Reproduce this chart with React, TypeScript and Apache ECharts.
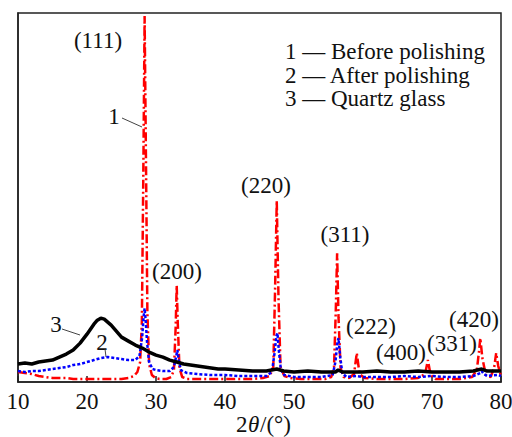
import React, { useEffect, useRef } from "react";
import * as echarts from "echarts";

const xTicks = [10, 20, 30, 40, 50, 60, 70, 80];

const seriesNames = ["Before polishing", "After polishing", "Quartz glass"];

const redData: [number, number][] = [
  [10, 10], [11, 9], [12, 8], [13, 6], [14, 5], [15, 4], [16, 4], [17, 4], [18, 3], [19, 3], [20, 3],
  [21, 3], [22, 3], [23, 3], [24, 3], [25, 3], [26, 4], [26.8, 6], [27.3, 10], [27.7, 20], [27.95, 60],
  [28.15, 200], [28.35, 367], [28.55, 220], [28.75, 70], [29.0, 18], [29.4, 7], [29.9, 4], [30.5, 3],
  [31.5, 3], [32.2, 5], [32.6, 12], [32.85, 55], [33.0, 97], [33.15, 60], [33.4, 14], [33.8, 5],
  [34.5, 3], [36, 3], [38, 3], [40, 3], [42, 3], [44, 3], [45.5, 4], [46.5, 6], [47.0, 15], [47.25, 90],
  [47.5, 182], [47.75, 85], [48.05, 15], [48.6, 6], [49.5, 4], [51, 3], [53, 3], [54.5, 3], [55.4, 5],
  [55.8, 15], [56.05, 70], [56.25, 129], [56.45, 65], [56.75, 14], [57.2, 5], [58.0, 4], [58.7, 8],
  [59.1, 29], [59.5, 8], [60.2, 4], [62, 3], [64, 3], [66, 3], [68, 4], [69.0, 8], [69.4, 22], [69.8, 7],
  [70.5, 3], [72, 3], [74, 3], [75.8, 5], [76.5, 12], [76.8, 30], [77.0, 44], [77.3, 24], [77.8, 7],
  [78.5, 5], [79.0, 14], [79.3, 29], [79.6, 16], [80, 6],
];

const blueData: [number, number][] = [
  [10, 11], [11, 10], [12, 11], [13, 11], [14, 12], [15, 13], [16, 14], [17, 15], [18, 17], [19, 18],
  [20, 20], [21, 22], [22, 24], [23, 25], [24, 24], [25, 23], [26, 22], [27, 22], [27.6, 26], [28.0, 45],
  [28.2, 65], [28.35, 74], [28.5, 62], [28.7, 40], [29.0, 20], [29.5, 13], [30, 12], [31, 11], [32, 11],
  [32.6, 15], [32.9, 25], [33.1, 32], [33.3, 22], [33.6, 12], [34.5, 9], [36, 8], [38, 7], [40, 7],
  [42, 6], [44, 6], [46, 6], [46.8, 10], [47.2, 30], [47.45, 46], [47.6, 49], [47.8, 32], [48.1, 12],
  [48.6, 7], [50, 5], [52, 5], [54, 5], [55.6, 7], [56.0, 20], [56.3, 40], [56.45, 44], [56.7, 25],
  [57.0, 9], [57.6, 5], [59, 6], [60, 5], [62, 5], [64, 5], [66, 6], [68, 5], [70, 6], [72, 5], [74, 5],
  [76, 6], [77, 9], [77.2, 11], [77.5, 8], [78, 6], [79.5, 7], [80, 6],
];

const blackData: [number, number][] = [
  [10, 18], [11, 19], [12, 18], [13, 20], [14, 21], [15, 22], [16, 25], [17, 28], [18, 32], [19, 39],
  [20, 48], [20.5, 53], [21, 58], [21.5, 62], [22, 64], [22.5, 63], [23, 60], [23.5, 57], [24, 53],
  [24.5, 49], [25, 45], [26, 41], [27, 37], [28, 34], [29, 30], [30, 27], [31, 25], [32, 22], [33, 20],
  [34, 18], [35, 17], [36, 16], [37, 15], [38, 14], [39, 13], [40, 13], [42, 12], [44, 11], [46, 11],
  [47.5, 13], [48.5, 11], [50, 10], [52, 11], [54, 10], [56, 10], [56.4, 12], [57, 10], [60, 10],
  [62, 11], [64, 10], [66, 10], [68, 11], [70, 10], [72, 10], [74, 10], [76, 11], [77.2, 13], [78, 11],
  [80, 11],
];

const peakLabels = ["(111)", "(200)", "(220)", "(311)", "(222)", "(400)", "(331)", "(420)"];

const FONT = "Liberation Serif";

export default function App() {
  const ref = useRef<HTMLDivElement>(null);

  useEffect(() => {
    if (!ref.current) return;
    const chart = echarts.init(ref.current, undefined, { renderer: "svg" });

    const peakPos: [number, number][] = [
      [98, 40], [177, 271], [266, 185], [345, 234], [371, 326], [401, 352], [452, 343], [474, 319],
    ];

    const txt = (text: string, x: number, y: number, align = "center", italic = false) => ({
      type: "text",
      x,
      y,
      silent: true,
      style: {
        text,
        fill: "#111",
        fontFamily: FONT,
        fontSize: 23,
        fontStyle: italic ? "italic" : "normal",
        align,
        verticalAlign: "middle",
      },
    });

    const leader = (x1: number, y1: number, x2: number, y2: number) => ({
      type: "line",
      silent: true,
      shape: { x1, y1, x2, y2 },
      style: { stroke: "#444", lineWidth: 1 },
    });

    const graphics: any[] = [
      ...peakLabels.map((t, i) => txt(t, peakPos[i][0], peakPos[i][1])),
      txt("1", 114, 116),
      leader(122, 118, 142, 127),
      txt("3", 56, 324),
      leader(62, 329, 80, 335),
      txt("2", 102, 342),
      leader(105, 349, 106, 357),
      txt(`1 — ${seriesNames[0]}`, 285, 51, "left"),
      txt(`2 — ${seriesNames[1]}`, 285, 75, "left"),
      txt(`3 — ${seriesNames[2]}`, 285, 98, "left"),
      // axis title 2θ/(°)
      txt("2", 236, 424, "left"),
      txt("θ", 248, 424, "left", true),
      txt("/(°)", 260, 424, "left"),
    ];

    chart.setOption({
      animation: false,
      backgroundColor: "#fff",
      textStyle: { fontFamily: FONT },
      grid: {
        left: 18,
        right: 11,
        top: 13,
        bottom: 55,
        containLabel: false,
        outerBoundsMode: "none",
        show: true,
        borderColor: "#222",
        borderWidth: 1.5,
      },
      xAxis: {
        type: "value",
        min: 10,
        max: 80,
        interval: 10,
        axisLine: { show: true, onZero: false, lineStyle: { color: "#222", width: 1.5 } },
        axisTick: { show: true, inside: true, length: 6, lineStyle: { color: "#222", width: 1.5 } },
        axisLabel: {
          fontFamily: FONT,
          fontSize: 23,
          color: "#111",
          margin: 8,
          formatter: (v: number) => (xTicks.includes(v) ? String(v) : ""),
        },
        splitLine: { show: false },
      },
      yAxis: {
        type: "value",
        min: 0,
        max: 370,
        axisLine: { show: true, lineStyle: { color: "#222", width: 1.5 } },
        axisTick: { show: false },
        axisLabel: { show: false },
        splitLine: { show: false },
      },
      series: [
        {
          name: seriesNames[0],
          type: "line",
          data: redData,
          showSymbol: false,
          lineStyle: { color: "#ff0000", width: 2.5, type: [9, 3, 2, 3] },
          z: 2,
        },
        {
          name: seriesNames[1],
          type: "line",
          data: blueData,
          showSymbol: false,
          lineStyle: { color: "#0000ff", width: 2.5, type: [3, 2] },
          z: 3,
        },
        {
          name: seriesNames[2],
          type: "line",
          data: blackData,
          showSymbol: false,
          lineStyle: { color: "#000", width: 3.5 },
          z: 4,
        },
      ],
      graphic: graphics,
    });

    return () => chart.dispose();
  }, []);

  return (
    <div
      ref={ref}
      style={{ position: "fixed", left: 0, top: 0, width: 512, height: 437, background: "#fff" }}
    />
  );
}
